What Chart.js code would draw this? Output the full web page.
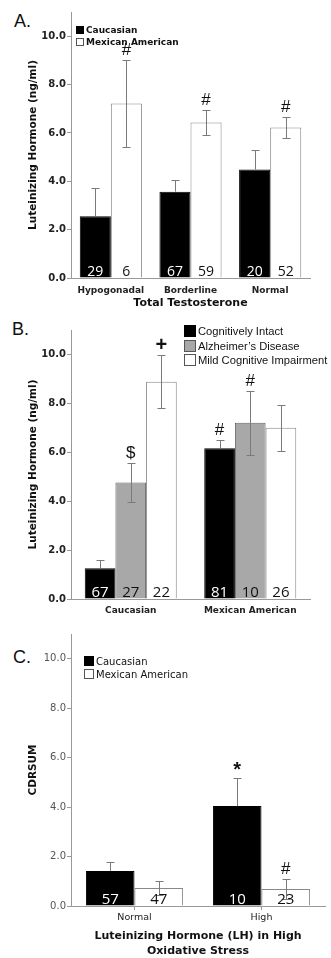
<!DOCTYPE html>
<html>
<head>
<meta charset="utf-8">
<script src="https://cdn.jsdelivr.net/npm/chart.js@4.4.1/dist/chart.umd.min.js"></script>
<style>
  body { margin: 0; background: #fff; width: 331px; height: 958px; position: relative; overflow: hidden; }
  canvas { position: absolute; left: 0; }
  .panel { position: absolute; font-family: "Liberation Sans", Arial, sans-serif; font-size: 18px; color: #111; }
  .leg { position: absolute; color: #111; white-space: nowrap; }
  .leg div { position: relative; }
  .leg i { display: inline-block; box-sizing: border-box; border: 1px solid #555; vertical-align: middle; margin-right: 2px; position: relative; top: -1px; }
</style>
</head>
<body>
<div class="panel" style="left:14px;top:11px">A.</div>
<div class="panel" style="left:12px;top:319px">B.</div>
<div class="panel" style="left:13px;top:647px">C.</div>
<canvas id="chartA" width="331" height="312" style="top:0"></canvas>
<canvas id="chartB" width="331" height="314" style="top:310px"></canvas>
<canvas id="chartC" width="331" height="334" style="top:624px"></canvas>
<div class="leg" id="legA" style="left:76px;top:24px;font:bold 9px 'DejaVu Sans'"></div>
<div class="leg" id="legB" style="left:184px;top:324px;font:11.2px 'Liberation Sans'"></div>
<div class="leg" id="legC" style="left:84px;top:656px;font:10px 'DejaVu Sans'"></div>
<script>
// A. LH by total testosterone
const catsA = ['Hypogonadal', 'Borderline', 'Normal'];
const seriesA = ['Caucasian', 'Mexican American'];
const cauA = [2.55, 3.57, 4.49];
const cauAHi = [3.72, 4.05, 5.29];
const cauALo = [1.38, 3.09, 3.69];
const mexA = [7.22, 6.43, 6.22];
const mexAHi = [9.01, 6.96, 6.65];
const mexALo = [5.43, 5.92, 5.80];
const nCauA = [29, 67, 20];
const nMexA = [6, 59, 52];
const sigCauA = ['', '', ''];
const sigMexA = ['#', '#', '#'];

// B. LH by ethnicity and cognitive status
const catsB = ['Caucasian', 'Mexican American'];
const seriesB = ['Cognitively Intact', 'Alzheimer\u2019s Disease', 'Mild Cognitive Impairment'];
const intactB = [1.26, 6.16];
const intactBHi = [1.59, 6.51];
const intactBLo = [0.93, 5.81];
const adB = [4.76, 7.21];
const adBHi = [5.58, 8.52];
const adBLo = [3.96, 5.88];
const mciB = [8.88, 7.00];
const mciBHi = [9.97, 7.94];
const mciBLo = [7.83, 6.07];
const nIntactB = [67, 81];
const nAdB = [27, 10];
const nMciB = [22, 26];
const sigIntactB = ['', '#'];
const sigAdB = ['$', '#'];
const sigMciB = ['+', ''];

// C. CDRSUM by LH in high oxidative stress
const catsC = ['Normal', 'High'];
const seriesC = ['Caucasian', 'Mexican American'];
const cauC = [1.42, 4.04];
const cauCHi = [1.78, 5.17];
const cauCLo = [1.06, 2.91];
const mexC = [0.73, 0.69];
const mexCHi = [1.03, 1.10];
const mexCLo = [0.43, 0.28];
const nCauC = [57, 10];
const nMexC = [47, 23];
const sigCauC = ['', '*'];
const sigMexC = ['', '#'];

const yTicks = [0, 2, 4, 6, 8, 10];

// legends (html, placed inside the plot area like the original)
function legend(id, names, fills, box, rowH) {
  const el = document.getElementById(id);
  names.forEach((n, i) => {
    const row = document.createElement('div');
    row.style.height = rowH + 'px';
    row.style.lineHeight = rowH + 'px';
    const sq = document.createElement('i');
    sq.style.width = box + 'px';
    sq.style.height = box + 'px';
    sq.style.background = fills[i];
    if (fills[i] === '#000') sq.style.borderColor = '#000';
    row.appendChild(sq);
    row.appendChild(document.createTextNode(n));
    el.appendChild(row);
  });
}
legend('legA', seriesA, ['#000', '#fff'], 8, 12);
legend('legB', seriesB, ['#000', '#a8a8a8', '#fff'], 12, 14.5);
legend('legC', seriesC, ['#000', '#fff'], 10, 12.5);

// error bars, n labels and significance marks
const sigFont = { '*': 'bold 20px', '+': 'bold 20px' };
const barExtras = {
  id: 'barExtras',
  afterDatasetsDraw(chart) {
    const ctx = chart.ctx, y = chart.scales.y;
    const o = chart.options.plugins.barExtras;
    chart.data.datasets.forEach((ds, i) => {
      chart.getDatasetMeta(i).data.forEach((bar, j) => {
        const x = Math.round(bar.x) + 0.5;
        const top = Math.round(y.getPixelForValue(ds.hi[j])) + 0.5;
        const bot = ds.dark ? bar.y : Math.round(y.getPixelForValue(ds.lo[j])) + 0.5;
        ctx.save();
        ctx.strokeStyle = '#7a7a7a';
        ctx.lineWidth = 1;
        ctx.beginPath();
        ctx.moveTo(x, bot); ctx.lineTo(x, top);
        ctx.moveTo(x - 4, top); ctx.lineTo(x + 4, top);
        if (!ds.dark) { ctx.moveTo(x - 4, bot); ctx.lineTo(x + 4, bot); }
        ctx.stroke();
        ctx.textAlign = 'center';
        ctx.fillStyle = ds.dark ? '#fff' : '#111';
        ctx.font = o.nSize + 'px "Open Sans"';
        ctx.textBaseline = 'alphabetic';
        ctx.fillText(ds.n[j], bar.x, bar.base - o.nGap);
        const s = ds.sig[j];
        if (s) {
          ctx.fillStyle = '#111';
          ctx.font = (sigFont[s] || '17px') + ' "Liberation Sans"';
          ctx.textBaseline = 'middle';
          ctx.fillText(s, bar.x, top - (s === '*' ? 8 : 10));
        }
        ctx.restore();
      });
    });
  }
};

function barSet(label, data, hi, lo, n, sig, fill, border) {
  return {
    label, data, hi, lo, n, sig,
    dark: fill === '#000',
    backgroundColor: fill, borderColor: border, borderWidth: 1
  };
}

function makeChart(id, cats, datasets, cfg) {
  return new Chart(document.getElementById(id), {
    type: 'bar',
    data: { labels: cats, datasets },
    options: {
      responsive: false, animation: false, devicePixelRatio: 1,
      layout: { padding: cfg.pad },
      datasets: { bar: { categoryPercentage: cfg.catPct, barPercentage: 1 } },
      plugins: { legend: { display: false }, tooltip: { enabled: false }, barExtras: { nSize: cfg.nSize, nGap: cfg.nGap } },
      scales: {
        x: {
          grid: cfg.xTicks ? { display: true, drawOnChartArea: false, offset: false, tickLength: 4, color: '#999' } : { display: false, drawTicks: false },
          border: { color: '#999' },
          ticks: { color: '#222', font: cfg.xFont, padding: cfg.xPad, maxRotation: 0, autoSkip: false },
          title: cfg.xTitle ? { display: true, text: cfg.xTitle, color: '#111', font: { family: 'DejaVu Sans', size: 11, weight: 'bold', lineHeight: 1.3 }, padding: { top: 0, bottom: cfg.xTitlePad } } : { display: false },
          afterFit: s => { s.height = cfg.xH; }
        },
        y: {
          min: 0, max: 11,
          afterBuildTicks: s => { s.ticks = yTicks.map(v => ({ value: v })); },
          afterFit: s => { s.width = cfg.yW; },
          grid: { display: true, drawOnChartArea: false, tickLength: 4, color: '#999' },
          border: { color: '#999' },
          ticks: { color: cfg.yColor, font: cfg.yFont, padding: 1, callback: v => v.toFixed(1) },
          title: { display: true, text: cfg.yTitle, color: '#111', font: { family: 'DejaVu Sans', size: 10.5, weight: 'bold', lineHeight: 1.2 }, padding: { top: 0, bottom: 0 } }
        }
      }
    },
    plugins: [barExtras]
  });
}

const boldTick = { family: 'DejaVu Sans', size: 10, weight: 'bold' };

makeChart('chartA', catsA, [
  barSet(seriesA[0], cauA, cauAHi, cauALo, nCauA, sigCauA, '#000', '#000'),
  barSet(seriesA[1], mexA, mexAHi, mexALo, nMexA, sigMexA, '#fff', '#888')
], {
  pad: { left: 27, top: 12, right: 21, bottom: 0 }, yW: 44, xH: 34,
  catPct: 0.78, nSize: 14, nGap: 2,
  xFont: { family: 'DejaVu Sans', size: 9, weight: 'bold' }, xPad: 7,
  xTitle: 'Total Testosterone', xTitlePad: 2,
  yFont: boldTick, yColor: '#222', yTitle: 'Luteinizing Hormone (ng/ml)'
});

makeChart('chartB', catsB, [
  barSet(seriesB[0], intactB, intactBHi, intactBLo, nIntactB, sigIntactB, '#000', '#000'),
  barSet(seriesB[1], adB, adBHi, adBLo, nAdB, sigAdB, '#a8a8a8', '#666'),
  barSet(seriesB[2], mciB, mciBHi, mciBLo, nMciB, sigMciB, '#fff', '#888')
], {
  pad: { left: 27, top: 20, right: 21, bottom: 0 }, yW: 44, xH: 25,
  catPct: 0.77, nSize: 15, nGap: 2,
  xFont: { family: 'DejaVu Sans', size: 9, weight: 'bold' }, xPad: 6,
  xTitle: null,
  yFont: boldTick, yColor: '#222', yTitle: 'Luteinizing Hormone (ng/ml)'
});

makeChart('chartC', catsC, [
  barSet(seriesC[0], cauC, cauCHi, cauCLo, nCauC, sigCauC, '#000', '#000'),
  barSet(seriesC[1], mexC, mexCHi, mexCLo, nMexC, sigMexC, '#fff', '#888')
], {
  pad: { left: 27, top: 10, right: 6, bottom: 0 }, yW: 44, xH: 52,
  catPct: 0.765, nSize: 15, nGap: 2, xTicks: true,
  xFont: { family: 'DejaVu Sans', size: 9.5 }, xPad: 2,
  xTitle: ['Luteinizing Hormone (LH) in High', 'Oxidative Stress'], xTitlePad: 0,
  yFont: { family: 'DejaVu Sans', size: 10 }, yColor: '#555', yTitle: 'CDRSUM'
});
</script>
</body>
</html>
